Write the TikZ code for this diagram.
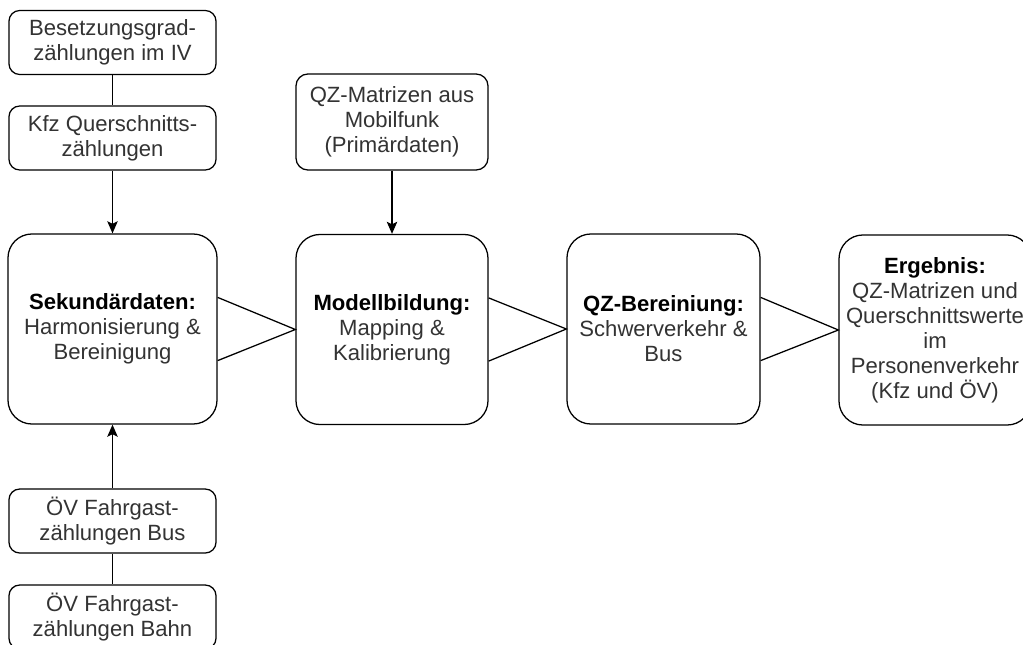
\documentclass[tikz,border=0pt]{standalone}
\usepackage{fontspec}
\setmainfont{Liberation Sans}
\usetikzlibrary{arrows.meta,calc}
\definecolor{txt}{HTML}{333333}
\tikzset{
  base/.style={draw=black, line width=0.9pt, fill=white, align=center, inner sep=0pt,
    font=\fontsize{15.7}{17.8}\selectfont, text=txt},
  smallbox/.style={base, rounded corners=0.27cm, minimum width=5.175cm, minimum height=1.6cm},
  midbox/.style={base, rounded corners=0.3cm, minimum width=4.8cm, minimum height=2.4cm},
  bigbox/.style={base, rounded corners=0.6cm, minimum width=4.8cm, minimum height=4.75cm},
  conn/.style={draw=black, line width=0.9pt},
  arr/.style={conn, -{Stealth[length=0.3cm, width=0.26cm, inset=0.06cm]}},
}
\newcommand{\hd}[1]{{\bfseries\color{black}#1}}
\begin{document}
\begin{tikzpicture}[x=0.025cm, y=-0.025cm]
\useasboundingbox (0,0) rectangle (1023,644);
\node[smallbox] (bes) at (112.5,42.5) {Besetzungsgrad-\\zählungen im IV};
\node[smallbox] (kfz) at (112.5,138) {Kfz Querschnitts-\\zählungen};
\node[bigbox, minimum width=5.225cm] (sek) at (112.5,329) {\hd{Sekundärdaten:}\\Harmonisierung \&\\Bereinigung};
\node[smallbox] (bus) at (112.5,521) {ÖV Fahrgast-\\zählungen Bus};
\node[smallbox] (bahn) at (112.5,617) {ÖV Fahrgast-\\zählungen Bahn};
\node[midbox] (mob) at (392,122) {QZ-Matrizen aus\\Mobilfunk\\(Primärdaten)};
\node[bigbox] (mod) at (392,329.5) {\hd{Modellbildung:}\\Mapping \&\\Kalibrierung};
\node[bigbox, minimum width=4.825cm] (qz) at (663.5,329) {\hd{QZ-Bereiniung:}\\Schwerverkehr \&\\Bus};
\node[bigbox] (erg) at (935,330) {\hd{Ergebnis:}\\QZ-Matrizen und\\Querschnittswerte\\im\\Personenverkehr\\(Kfz und ÖV)};

\draw[conn] (bes) -- (kfz);
\draw[arr] (kfz) -- (sek);
\draw[arr] (bus) -- (sek);
\draw[conn] (bus) -- (bahn);
\draw[arr] (mob) -- (mod);

\draw[conn] ([yshift=0.79cm]sek.east) -- (mod.west) -- ([yshift=-0.79cm]sek.east);
\draw[conn] ([yshift=0.79cm]mod.east) -- (qz.west) -- ([yshift=-0.79cm]mod.east);
\draw[conn] ([yshift=0.79cm]qz.east) -- (erg.west) -- ([yshift=-0.79cm]qz.east);
\end{tikzpicture}
\end{document}
